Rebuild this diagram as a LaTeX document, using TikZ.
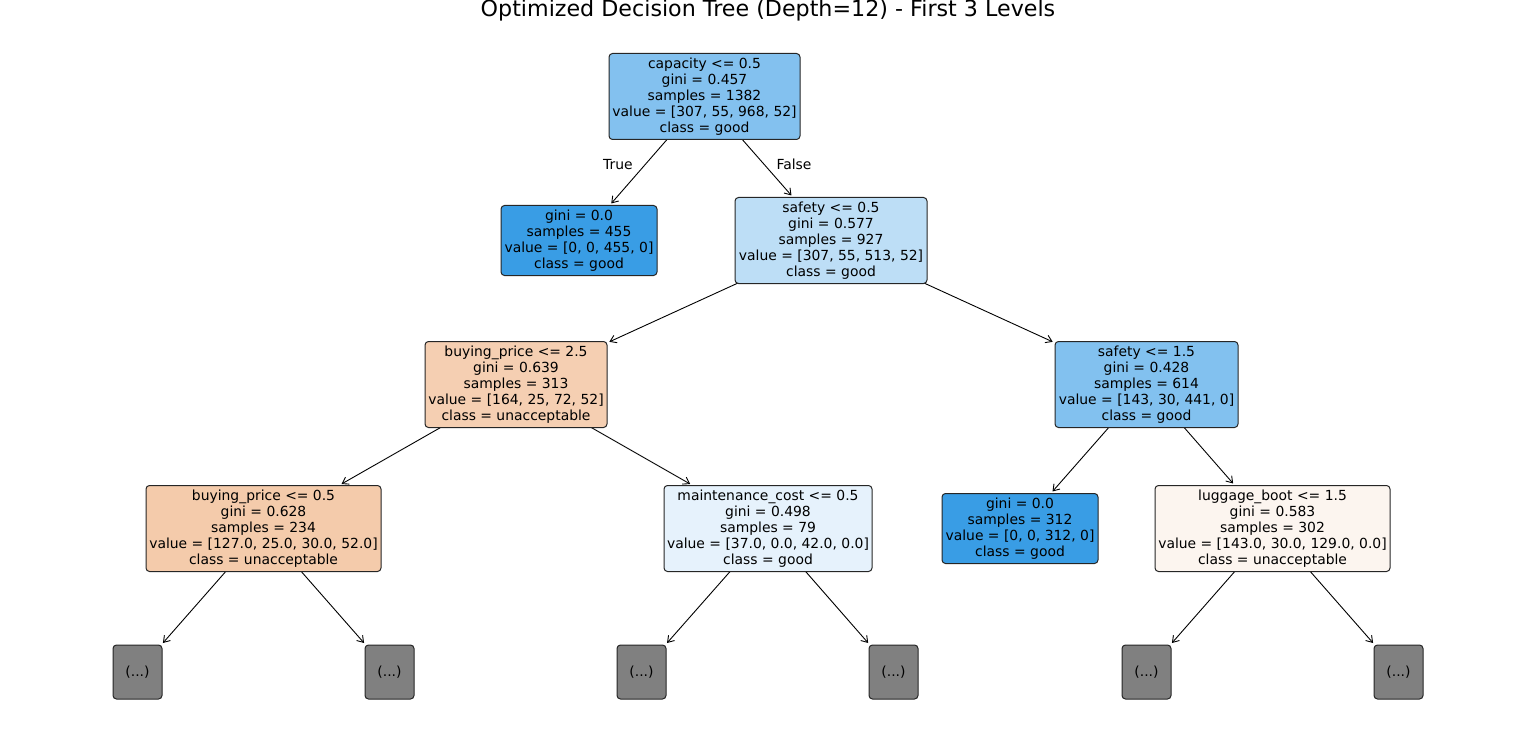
\documentclass[tikz,border=0pt]{standalone}
\usepackage{fontspec}
\setmainfont{DejaVu Sans}
\usetikzlibrary{arrows.meta,backgrounds}
\definecolor{cRoot}{HTML}{83C1EF}
\definecolor{cPure}{HTML}{399DE5}
\definecolor{cSafeA}{HTML}{BDDEF6}
\definecolor{cBuyA}{HTML}{F5CFB2}
\definecolor{cSafeB}{HTML}{82C1EF}
\definecolor{cBuyB}{HTML}{F4CBAB}
\definecolor{cMaint}{HTML}{E6F2FC}
\definecolor{cLug}{HTML}{FCF5EF}
\definecolor{cMore}{HTML}{808080}
\tikzset{
  treenode/.style={draw=black!85, line width=1pt, rounded corners=3.5pt, align=center,
    inner sep=0pt, font=\fontsize{13.9}{16}\selectfont},
  morenode/.style={treenode, fill=cMore, minimum width=49pt, minimum height=54pt},
  edge/.style={-{Straight Barb[length=6pt,width=8pt]}, line width=0.9pt, shorten >=2pt},
  edgelabel/.style={font=\fontsize{13.9}{16}\selectfont, inner sep=0pt}
}
\begin{document}
\begin{tikzpicture}[x=1pt,y=-1pt]
\useasboundingbox (0,0) rectangle (1536,754);
\node[font=\fontsize{22.2}{26}\selectfont, inner sep=0pt, anchor=base] (title) at (768,17) {Optimized Decision Tree (Depth=12) - First 3 Levels};

\node[treenode, fill=cRoot, minimum width=191pt, minimum height=86pt] (root) at (704.5,96.5)
  {capacity <= 0.5\\gini = 0.457\\samples = 1382\\value = [307, 55, 968, 52]\\class = good};
\node[treenode, fill=cPure, minimum width=156pt, minimum height=70pt] (pureA) at (579,240.5)
  {gini = 0.0\\samples = 455\\value = [0, 0, 455, 0]\\class = good};
\node[treenode, fill=cSafeA, minimum width=192pt, minimum height=86pt] (safeA) at (831,240.5)
  {safety <= 0.5\\gini = 0.577\\samples = 927\\value = [307, 55, 513, 52]\\class = good};
\node[treenode, fill=cBuyA, minimum width=182pt, minimum height=86pt] (buyA) at (516,384.5)
  {buying\_price <= 2.5\\gini = 0.639\\samples = 313\\value = [164, 25, 72, 52]\\class = unacceptable};
\node[treenode, fill=cSafeB, minimum width=183pt, minimum height=86pt] (safeB) at (1146.5,384.5)
  {safety <= 1.5\\gini = 0.428\\samples = 614\\value = [143, 30, 441, 0]\\class = good};
\node[treenode, fill=cBuyB, minimum width=235pt, minimum height=86pt] (buyB) at (263.5,528.5)
  {buying\_price <= 0.5\\gini = 0.628\\samples = 234\\value = [127.0, 25.0, 30.0, 52.0]\\class = unacceptable};
\node[treenode, fill=cMaint, minimum width=208pt, minimum height=86pt] (maint) at (768,528.5)
  {maintenance\_cost <= 0.5\\gini = 0.498\\samples = 79\\value = [37.0, 0.0, 42.0, 0.0]\\class = good};
\node[treenode, fill=cPure, minimum width=156pt, minimum height=70pt] (pureB) at (1020,528.5)
  {gini = 0.0\\samples = 312\\value = [0, 0, 312, 0]\\class = good};
\node[treenode, fill=cLug, minimum width=235pt, minimum height=86pt] (lug) at (1272.5,528.5)
  {luggage\_boot <= 1.5\\gini = 0.583\\samples = 302\\value = [143.0, 30.0, 129.0, 0.0]\\class = unacceptable};

\node[morenode] (m1) at (137.5,672) {(...)};
\node[morenode] (m2) at (389.5,672) {(...)};
\node[morenode] (m3) at (641.5,672) {(...)};
\node[morenode] (m4) at (893.5,672) {(...)};
\node[morenode] (m5) at (1146.5,672) {(...)};
\node[morenode] (m6) at (1398.5,672) {(...)};

\node[edgelabel] (ltrue) at (618,164.5) {True};
\node[edgelabel] (lfalse) at (794,164.5) {False};

\begin{pgfonlayer}{background}
\draw[edge] (root.center) -- (pureA);
\draw[edge] (root.center) -- (safeA);
\draw[edge] (safeA.center) -- (buyA);
\draw[edge] (safeA.center) -- (safeB);
\draw[edge] (buyA.center) -- (buyB);
\draw[edge] (buyA.center) -- (maint);
\draw[edge] (safeB.center) -- (pureB);
\draw[edge] (safeB.center) -- (lug);
\draw[edge] (buyB.center) -- (m1);
\draw[edge] (buyB.center) -- (m2);
\draw[edge] (maint.center) -- (m3);
\draw[edge] (maint.center) -- (m4);
\draw[edge] (lug.center) -- (m5);
\draw[edge] (lug.center) -- (m6);
\end{pgfonlayer}
\end{tikzpicture}
\end{document}
